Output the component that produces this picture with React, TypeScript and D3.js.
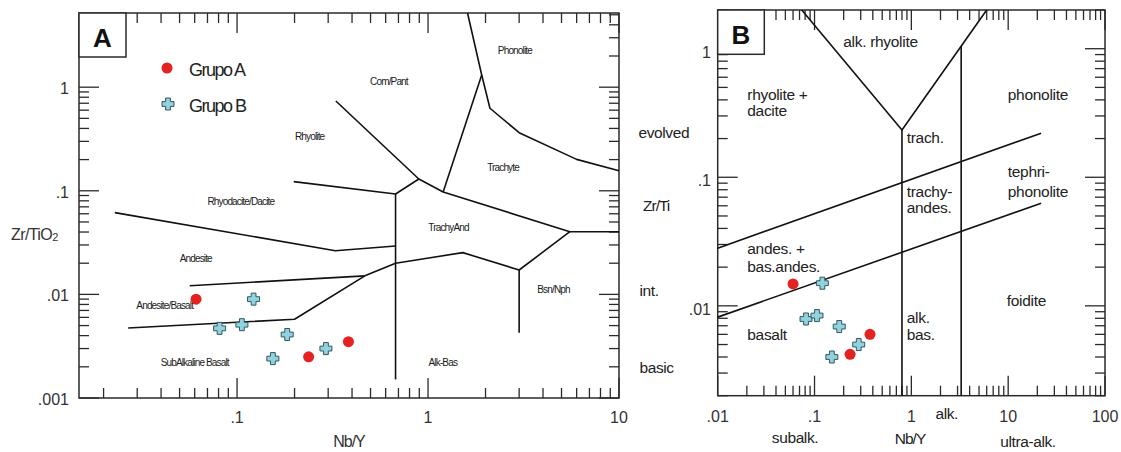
import React from 'react';
import * as d3 from 'd3';

// ---------- Panel A data (Nb/Y vs Zr/TiO2) ----------
const grupoA_nbY_A = [0.061, 0.237, 0.383];
const grupoA_zrTiO2_A = [0.0090, 0.0025, 0.0035];
const grupoB_nbY_A = [0.122, 0.081, 0.106, 0.183, 0.154, 0.292];
const grupoB_zrTiO2_A = [0.0090, 0.0047, 0.0051, 0.0041, 0.0024, 0.0030];

// ---------- Panel B data (Nb/Y vs Zr/Ti) ----------
const grupoA_nbY_B = [0.060, 0.233, 0.374];
const grupoA_zrTi_B = [0.0148, 0.0042, 0.0060];
const grupoB_nbY_B = [0.1205, 0.0817, 0.106, 0.180, 0.151, 0.286];
const grupoB_zrTi_B = [0.0150, 0.0079, 0.0084, 0.0069, 0.0040, 0.0050];

// axis domains
const xDomainA: [number, number] = [0.01487, 10];
const yDomainA: [number, number] = [0.001, 5.2];
const xDomainB: [number, number] = [0.01, 100];
const yDomainB: [number, number] = [0.002, 2];

// tick labels
const xTickValsA = [0.1, 1, 10];
const xTickLabelsA = ['.1', '1', '10'];
const yTickValsA = [0.001, 0.01, 0.1, 1];
const yTickLabelsA = ['.001', '.01', '.1', '1'];
const xTickValsB = [0.01, 0.1, 1, 10, 100];
const xTickLabelsB = ['.01', '.1', '1', '10', '100'];
const yTickValsB = [0.01, 0.1, 1];
const yTickLabelsB = ['.01', '.1', '1'];

// field boundaries (data coordinates)
const boundariesA: [number, number][][] = [
  [[0.198, 0.1225], [0.676, 0.0931], [0.895, 0.130]],
  [[0.329, 0.736], [0.895, 0.130], [1.20, 0.0973], [5.53, 0.0403], [10, 0.0403]],
  [[1.20, 0.0973], [1.91, 1.31]],
  [[1.61, 5.2], [1.91, 1.31], [2.11, 0.626], [3.0, 0.364], [6.0, 0.201], [10, 0.156]],
  [[0.0229, 0.0615], [0.327, 0.0264], [0.676, 0.0293]],
  [[0.676, 0.0931], [0.676, 0.00151]],
  [[0.676, 0.020], [1.52, 0.0253], [3.0, 0.0172], [5.53, 0.0403]],
  [[3.0, 0.0172], [3.0, 0.00427]],
  [[0.0565, 0.0121], [0.467, 0.0151]],
  [[0.0269, 0.00474], [0.2, 0.00575], [0.467, 0.0151], [0.676, 0.020]],
];

const boundariesB: [number, number][][] = [
  [[0.0738, 2], [0.8, 0.233], [6.0, 2]],
  [[0.8, 0.233], [0.8, 0.002]],
  [[3.27, 1.05], [3.27, 0.002]],
  [[0.01, 0.0281], [21.9, 0.22]],
  [[0.01, 0.00817], [21.9, 0.0628]],
];

// field names (centre, data coordinates)
const fieldNamesA = ['Phonolite', 'Com/Pant', 'Rhyolite', 'Trachyte', 'Rhyodacite/Dacite', 'TrachyAnd', 'Andesite', 'Andesite/Basalt', 'Bsn/Nph', 'SubAlkaline Basalt', 'Alk-Bas'];
const fieldXA = [2.85, 0.624, 0.240, 2.47, 0.1046, 1.28, 0.0608, 0.0418, 4.54, 0.060, 1.195];
const fieldYA = [2.09, 1.05, 0.309, 0.155, 0.0729, 0.0409, 0.0206, 0.00723, 0.01032, 0.00204, 0.00204];

// field names (start, data coordinates)
const fieldNamesB = ['alk. rhyolite', 'rhyolite +', 'dacite', 'phonolite', 'trach.', 'trachy-', 'andes.', 'tephri-', 'phonolite', 'andes. +', 'bas.andes.', 'basalt', 'foidite', 'alk.', 'bas.'];
const fieldXB = [0.198, 0.0202, 0.0202, 9.91, 0.896, 0.896, 0.896, 9.91, 9.91, 0.0202, 0.0202, 0.0202, 9.67, 0.896, 0.896];
const fieldYB = [1.03, 0.399, 0.302, 0.399, 0.184, 0.0699, 0.0525, 0.101, 0.0706, 0.0252, 0.01845, 0.00543, 0.00998, 0.0074, 0.00543];

const FONT = '"Liberation Sans", Arial, sans-serif';
const RED = '#e42320';
const CROSS_FILL = '#93d1dd';
const CROSS_STROKE = '#2e5864';

const crossPath = (a = 6, w = 2.4) =>
  `M${-w},${-a}H${w}V${-w}H${a}V${w}H${w}V${a}H${-w}V${w}H${-a}V${-w}H${-w}Z`;

function isDecade(v: number) {
  const l = Math.log10(v);
  return Math.abs(l - Math.round(l)) < 1e-6;
}

type Sc = d3.ScaleLogarithmic<number, number>;

function Frame({ x, y }: { x: Sc; y: Sc }) {
  const [x0, x1] = x.range();
  const [y0, y1] = y.range(); // y0 bottom, y1 top
  const ticksX = x.ticks();
  const ticksY = y.ticks();
  const major = 20, minor = 10;
  return (
    <g stroke="#2a2a2a" strokeWidth={1.3}>
      {ticksX.map((t, i) => {
        const px = x(t);
        const L = isDecade(t) ? major : minor;
        return (
          <g key={'x' + i}>
            <line x1={px} x2={px} y1={y0} y2={y0 - L} />
            <line x1={px} x2={px} y1={y1} y2={y1 + L} />
          </g>
        );
      })}
      {ticksY.map((t, i) => {
        const py = y(t);
        const L = isDecade(t) ? major : minor;
        return (
          <g key={'y' + i}>
            <line x1={x0} x2={x0 + L} y1={py} y2={py} />
            <line x1={x1} x2={x1 - L} y1={py} y2={py} />
          </g>
        );
      })}
      <rect x={x0} y={y1} width={x1 - x0} height={y0 - y1} fill="none" strokeWidth={1.5} />
    </g>
  );
}

function Boundaries({ x, y, lines }: { x: Sc; y: Sc; lines: [number, number][][] }) {
  const gen = d3.line<[number, number]>().x((d) => x(d[0])).y((d) => y(d[1]));
  return (
    <g fill="none" stroke="#111" strokeWidth={1.6} strokeLinejoin="round">
      {lines.map((l, i) => (
        <path key={i} d={gen(l) || ''} />
      ))}
    </g>
  );
}

function Points({ x, y, ax, ay, bx, by }: { x: Sc; y: Sc; ax: number[]; ay: number[]; bx: number[]; by: number[] }) {
  return (
    <g>
      {bx.map((v, i) => (
        <path key={'b' + i} d={crossPath()} transform={`translate(${x(v)},${y(by[i])})`} fill={CROSS_FILL} stroke={CROSS_STROKE} strokeWidth={1} />
      ))}
      {ax.map((v, i) => (
        <circle key={'a' + i} cx={x(v)} cy={y(ay[i])} r={5.5} fill={RED} />
      ))}
    </g>
  );
}

export default function App() {
  // Panel A scales
  const xA = d3.scaleLog().domain(xDomainA).range([79, 619]);
  const yA = d3.scaleLog().domain(yDomainA).range([398, 13]);
  // Panel B scales
  const xB = d3.scaleLog().domain(xDomainB).range([717.7, 1105]);
  const yB = d3.scaleLog().domain(yDomainB).range([395.7, 10]);

  return (
    <svg
      width={1121}
      height={452}
      style={{ position: 'absolute', left: 0, top: 0, background: '#fff' }}
      fontFamily={FONT}
    >
      <rect x={0} y={0} width={1121} height={452} fill="#fff" />

      {/* ---------------- Panel A ---------------- */}
      <Frame x={xA} y={yA} />
      <Boundaries x={xA} y={yA} lines={boundariesA} />
      <g fontSize={10} letterSpacing={-0.85} fill="#1a1a1a" textAnchor="middle">
        {fieldNamesA.map((n, i) => (
          <text key={i} x={xA(fieldXA[i])} y={yA(fieldYA[i])}>{n}</text>
        ))}
      </g>
      <Points x={xA} y={yA} ax={grupoA_nbY_A} ay={grupoA_zrTiO2_A} bx={grupoB_nbY_A} by={grupoB_zrTiO2_A} />
      {/* tick labels */}
      <g fontSize={16} fill="#333" textAnchor="middle">
        {xTickValsA.map((v, i) => (
          <text key={i} x={xA(v)} y={423}>{xTickLabelsA[i]}</text>
        ))}
      </g>
      <g fontSize={16} fill="#333" textAnchor="end">
        {yTickValsA.map((v, i) => (
          <text key={i} x={69} y={yA(v) + 7}>{yTickLabelsA[i]}</text>
        ))}
      </g>
      <text x={349} y={446.5} fontSize={16} fill="#333" textAnchor="middle" letterSpacing={-1}>Nb/Y</text>
      <text x={11} y={240} fontSize={16} fill="#333" letterSpacing={-0.6}>
        Zr/TiO<tspan fontSize={11} dy={1}>2</tspan>
      </text>
      {/* legend */}
      <circle cx={167} cy={68} r={5.5} fill={RED} />
      <path d={crossPath()} transform="translate(168,104)" fill={CROSS_FILL} stroke={CROSS_STROKE} strokeWidth={1} />
      <g fontSize={18} fill="#222" letterSpacing={-1.5}>
        <text x={189} y={76}>Grupo A</text>
        <text x={189} y={112}>Grupo B</text>
      </g>
      {/* panel letter */}
      <rect x={79} y={13} width={47} height={44} fill="#fff" stroke="#2a2a2a" strokeWidth={1.5} />
      <text x={102.5} y={46.5} fontSize={26} fontWeight="bold" textAnchor="middle" fill="#111">A</text>

      {/* ---------------- Panel B ---------------- */}
      <Frame x={xB} y={yB} />
      <Boundaries x={xB} y={yB} lines={boundariesB} />
      <g fontSize={15.5} fill="#222" letterSpacing={-0.3}>
        {fieldNamesB.map((n, i) => (
          <text key={i} x={xB(fieldXB[i])} y={yB(fieldYB[i])}>{n}</text>
        ))}
      </g>
      <Points x={xB} y={yB} ax={grupoA_nbY_B} ay={grupoA_zrTi_B} bx={grupoB_nbY_B} by={grupoB_zrTi_B} />
      <g fontSize={16} fill="#333" textAnchor="middle">
        {xTickValsB.map((v, i) => (
          <text key={i} x={xB(v)} y={421.5}>{xTickLabelsB[i]}</text>
        ))}
      </g>
      <g fontSize={16} fill="#333" textAnchor="end">
        {yTickValsB.map((v, i) => (
          <text key={i} x={711} y={yB(v) + 9}>{yTickLabelsB[i]}</text>
        ))}
      </g>
      <g fontSize={15.5} fill="#222" letterSpacing={-0.4}>
        <text x={638.5} y={138}>evolved</text>
        <text x={643} y={210.5} letterSpacing={-1}>Zr/Ti</text>
        <text x={639.5} y={296}>int.</text>
        <text x={639.5} y={372.5}>basic</text>
      </g>
      <g fontSize={15.5} fill="#222" textAnchor="middle" letterSpacing={-0.4}>
        <text x={795} y={442.5}>subalk.</text>
        <text x={910} y={443.5} letterSpacing={-1}>Nb/Y</text>
        <text x={946.7} y={418.5}>alk.</text>
        <text x={1028} y={447}>ultra-alk.</text>
      </g>
      <rect x={717.7} y={10} width={46.6} height={44.3} fill="#fff" stroke="#2a2a2a" strokeWidth={1.5} />
      <text x={741} y={44} fontSize={26} fontWeight="bold" textAnchor="middle" fill="#111">B</text>
    </svg>
  );
}
